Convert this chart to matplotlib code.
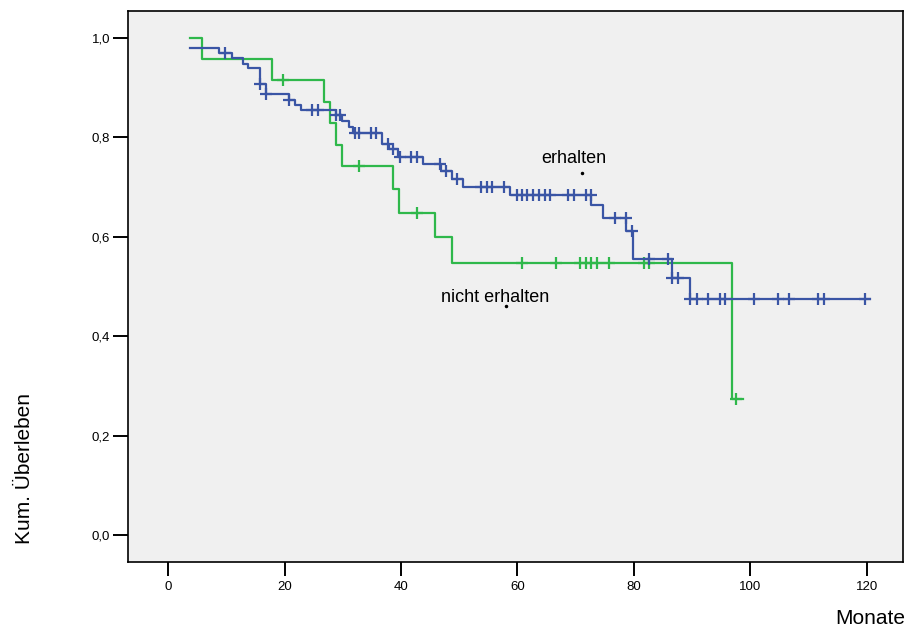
import matplotlib.pyplot as plt
import numpy as np

plt.rcParams['font.family'] = ['Liberation Sans', 'DejaVu Sans']

# Gruppe "erhalten": Zeitpunkte der Stufen (Monate) und kum. Überleben
erh_zeit = [3.8, 8.8, 10.9, 12.8, 13.8, 15.8, 16.8, 20.8, 21.8, 22.8, 28.8, 29.8,
            31.0, 31.7, 36.7, 37.9, 39.5, 43.8, 46.8, 48.7, 50.7, 58.7, 72.7,
            74.7, 78.7, 79.8, 86.6, 89.7]
erh_surv = [0.979, 0.969, 0.959, 0.948, 0.939, 0.907, 0.887, 0.875, 0.866, 0.854,
            0.844, 0.832, 0.820, 0.809, 0.787, 0.777, 0.760, 0.746, 0.732, 0.716,
            0.701, 0.685, 0.663, 0.638, 0.611, 0.555, 0.518, 0.475]
erh_ende = 120.6
erh_zensiert = [9.8, 15.8, 16.8, 20.8, 24.8, 25.8, 28.8, 29.5, 32.1, 32.8, 34.8,
                35.7, 37.8, 38.7, 39.8, 41.8, 42.7, 46.7, 47.8, 49.6, 53.8, 54.8,
                55.7, 57.7, 59.9, 60.7, 61.7, 62.7, 63.7, 64.7, 65.6, 68.7, 69.7,
                71.7, 72.6, 76.7, 78.6, 79.6, 82.6, 85.8, 86.6, 87.6, 89.7, 90.8,
                92.8, 94.7, 95.6, 100.6, 104.7, 106.7, 111.6, 112.6, 119.7]

# Gruppe "nicht erhalten"
nerh_zeit = [3.8, 5.8, 17.9, 26.8, 27.8, 28.8, 29.8, 38.7, 39.7, 45.8, 48.8, 96.8]
nerh_surv = [1.000, 0.958, 0.915, 0.872, 0.828, 0.785, 0.742, 0.696, 0.648,
             0.599, 0.548, 0.274]
nerh_ende = 98.8
nerh_zensiert = [19.8, 32.8, 42.7, 60.7, 66.7, 70.7, 71.7, 72.7, 73.7, 75.7,
                 81.8, 82.6, 97.6]

x_ticks = [0, 20, 40, 60, 80, 100, 120]
y_ticks = [0.0, 0.2, 0.4, 0.6, 0.8, 1.0]

blau = '#3a55a5'
gruen = '#2fb84b'


def stufe(ax, zeit, surv, ende, zensiert, farbe):
    # Treppenfunktion plus Zensierungsmarken
    t = np.array(list(zeit) + [ende])
    s = np.array(list(surv) + [surv[-1]])
    ax.step(t, s, where='post', color=farbe, lw=1.6, zorder=3)
    idx = np.searchsorted(zeit, zensiert, side='right') - 1
    ax.plot(zensiert, np.array(surv)[idx], linestyle='none', marker='+',
            markersize=9, markeredgewidth=1.6, color=farbe, zorder=4)


fig = plt.figure(figsize=(9.06, 6.30), dpi=100)
ax = fig.add_axes([0.1413, 0.1079, 0.8554, 0.8746])
ax.set_facecolor('#f0f0f0')

stufe(ax, nerh_zeit, nerh_surv, nerh_ende, nerh_zensiert, gruen)
stufe(ax, erh_zeit, erh_surv, erh_ende, erh_zensiert, blau)

ax.set_xlim(-6.87, 126.2)
ax.set_ylim(-0.054, 1.054)
ax.set_xticks(x_ticks)
ax.set_xticklabels([str(v) for v in x_ticks])
ax.set_yticks(y_ticks)
ax.set_yticklabels([f'{v:.1f}'.replace('.', ',') for v in y_ticks])
ax.tick_params(axis='x', length=10, width=1.4, labelsize=9.5, pad=4)
ax.tick_params(axis='y', length=11, width=1.4, labelsize=9.5, pad=2)
for sp in ax.spines.values():
    sp.set_linewidth(1.2)

# Beschriftungen der Kurven (SPSS-Stil mit Ankerpunkt)
ax.text(69.7, 0.757, 'erhalten', fontsize=13, ha='center', va='center')
ax.plot([71.1], [0.729], marker='o', markersize=1.5, color='black')
ax.text(56.1, 0.478, 'nicht erhalten', fontsize=13, ha='center', va='center')
ax.plot([58.0], [0.460], marker='o', markersize=1.5, color='black')

fig.text(25 / 906, 1 - 469 / 630, 'Kum. Überleben', rotation=90,
         fontsize=15, ha='center', va='center')
fig.text(905 / 906, 1 - 619 / 630, 'Monate', fontsize=15, ha='right', va='center')

fig.savefig('out.png', dpi=100)
